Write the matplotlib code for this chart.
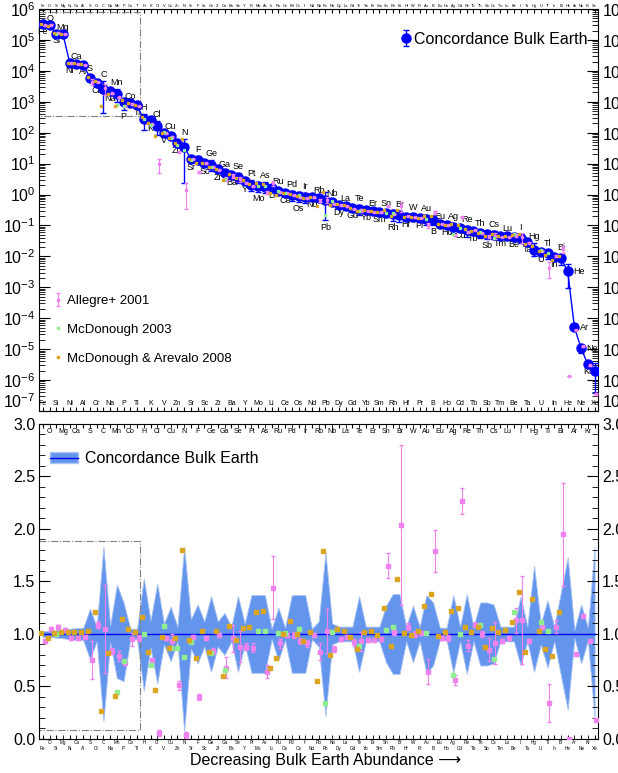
import numpy as np
import matplotlib
matplotlib.use('Agg')
import matplotlib.pyplot as plt
from matplotlib.patches import Patch
from matplotlib.lines import Line2D
from matplotlib.ticker import LogLocator, MultipleLocator, NullFormatter, FormatStrFormatter

plt.rcParams['font.family'] = ['Liberation Sans', 'DejaVu Sans']
plt.rcParams['mathtext.fontset'] = 'custom'
plt.rcParams['mathtext.rm'] = 'Liberation Sans'
plt.rcParams['mathtext.it'] = 'Liberation Sans:italic'
plt.rcParams['mathtext.bf'] = 'Liberation Sans:bold'

nan = np.nan

# elements in order of decreasing bulk Earth abundance
elements = ['Fe', 'O', 'Si', 'Mg', 'Ni', 'Ca', 'Al', 'S', 'Cr', 'C',
            'Na', 'Mn', 'P', 'Co', 'Ti', 'H', 'K', 'Cl', 'V', 'Cu',
            'Zn', 'N', 'Sr', 'F', 'Sc', 'Ge', 'Zr', 'Ga', 'Ba', 'Se',
            'Y', 'Pt', 'Mo', 'As', 'Li', 'Ru', 'Ce', 'Pd', 'Os', 'Ir',
            'Nd', 'Rb', 'Pb', 'Nb', 'Dy', 'La', 'Gd', 'Te', 'Yb', 'Er',
            'Sm', 'Sn', 'Rh', 'Br', 'Hf', 'W', 'Pr', 'Au', 'B', 'Eu',
            'Ho', 'Ag', 'Cd', 'Re', 'Tb', 'Th', 'Sb', 'Cs', 'Tm', 'Lu',
            'Be', 'I', 'Ta', 'Hg', 'U', 'Tl', 'In', 'Bi', 'He', 'Ar',
            'Ne', 'Kr', 'Xe']

# concordance bulk Earth (ppm)
bulk = [3.15e5, 2.98e5, 1.60e5, 1.50e5, 1.80e4, 1.72e4, 1.60e4, 6.0e3, 4.0e3, 2.6e3,
        2.2e3, 1.75e3, 1.0e3, 880, 760, 270, 250, 160, 100, 76,
        47, 34, 14.5, 13.5, 10.5, 9.3, 6.5, 4.8, 4.2, 3.6,
        2.7, 2.1, 1.9, 1.8, 1.6, 1.3, 1.15, 0.96, 0.89, 0.84,
        0.82, 0.76, 0.66, 0.59, 0.47, 0.43, 0.37, 0.33, 0.31, 0.29,
        0.28, 0.25, 0.23, 0.21, 0.19, 0.185, 0.17, 0.16, 0.15, 0.115,
        0.104, 0.090, 0.081, 0.070, 0.066, 0.055, 0.052, 0.050, 0.046, 0.044,
        0.043, 0.038, 0.030, 0.016, 0.014, 0.0125, 0.0098, 0.0087, 0.0033, 5.1e-5,
        1.05e-5, 3.2e-6, 2.0e-6]

# relative uncertainties (upper / lower)
err_up = [0.03, 0.025, 0.035, 0.04, 0.05, 0.055, 0.06, 0.24, 0.07, 0.83,
          0.08, 0.47, 0.30, 0.05, 0.05, 0.53, 0.13, 0.48, 0.10, 0.26,
          0.07, 0.83, 0.14, 0.28, 0.12, 0.36, 0.12, 0.20, 0.07, 0.36,
          0.10, 0.37, 0.37, 0.37, 0.05, 0.25, 0.06, 0.37, 0.37, 0.37,
          0.05, 0.12, 0.78, 0.10, 0.07, 0.07, 0.07, 0.36, 0.07, 0.07,
          0.07, 0.27, 0.38, 0.38, 0.07, 0.27, 0.07, 0.37, 0.30, 0.06,
          0.06, 0.37, 0.07, 0.38, 0.07, 0.30, 0.30, 0.28, 0.07, 0.07,
          0.07, 0.36, 0.07, 0.65, 0.10, 0.32, 0.07, 0.40, 0.73, 0.04,
          0.28, 0.06, 0.83]
err_lo = [0.03, 0.025, 0.035, 0.04, 0.05, 0.055, 0.06, 0.24, 0.07, 0.83,
          0.08, 0.42, 0.45, 0.05, 0.05, 0.54, 0.13, 0.47, 0.10, 0.26,
          0.07, 0.93, 0.14, 0.28, 0.12, 0.36, 0.12, 0.20, 0.07, 0.36,
          0.10, 0.37, 0.37, 0.37, 0.05, 0.25, 0.06, 0.37, 0.37, 0.37,
          0.05, 0.12, 0.78, 0.10, 0.07, 0.07, 0.07, 0.36, 0.07, 0.07,
          0.07, 0.27, 0.38, 0.38, 0.07, 0.27, 0.07, 0.37, 0.30, 0.06,
          0.06, 0.37, 0.07, 0.38, 0.07, 0.30, 0.30, 0.28, 0.07, 0.07,
          0.07, 0.30, 0.07, 0.36, 0.10, 0.32, 0.07, 0.40, 0.72, 0.04,
          0.28, 0.06, 0.81]

# ratios of other estimates to the concordance value
allegre = [0.93, 1.05, 1.07, 1.04, 0.96, 0.96, 0.97, 0.75, 1.09, 1.05,
           0.84, 0.79, 0.72, 0.95, 0.96, nan, 0.75, 0.06, 0.96, 0.93,
           0.51, 0.04, 0.97, 0.40, 0.96, 0.84, 0.99, 0.68, 0.96, 0.88,
           0.88, 0.87, nan, 0.64, 1.44, 0.91, 0.99, 0.99, 0.93, 0.91,
           0.99, 0.83, 1.03, 0.86, 0.95, 0.97, 0.92, 0.93, 0.94, 0.94,
           0.95, 1.65, 1.02, 2.04, 1.07, 1.00, 1.01, 0.64, 1.79, 0.96,
           0.96, 0.56, 2.27, 0.89, 1.09, 1.00, 0.85, 0.91, 0.93, 0.96,
           1.13, 1.13, 0.93, nan, 1.07, 0.34, 1.07, 1.95, 0.0004, 0.81,
           1.17, 0.93, 0.18]
allegre_err = [0.02, 0.02, 0.02, 0.02, 0.02, 0.02, 0.02, 0.18, 0.03, 0.42,
               0.03, 0.05, 0.02, 0.06, 0.03, nan, 0.02, 0.03, 0.02, 0.07,
               0.04, 0.03, 0.02, 0.03, 0.02, 0.03, 0.02, 0.10, 0.13, 0.15,
               0.03, 0.04, nan, 0.06, 0.30, 0.04, 0.02, 0.03, 0.03, 0.03,
               0.02, 0.08, 0.21, 0.03, 0.02, 0.02, 0.03, 0.09, 0.02, 0.02,
               0.02, 0.12, 0.03, 0.76, 0.03, 0.03, 0.02, 0.12, 0.20, 0.02,
               0.03, 0.05, 0.125, 0.05, 0.02, 0.03, 0.11, 0.20, 0.02, 0.02,
               0.12, 0.42, 0.02, nan, 0.02, 0.18, 0.06, 0.49, 0.0, 0.01,
               0.01, 0.01, 0.01]
mcd03 = [nan, nan, 1.00, nan, nan, nan, nan, nan, nan, nan,
         nan, 0.45, 0.74, nan, nan, 1.00, 0.70, nan, 1.08, 0.87,
         0.87, 0.78, 0.92, nan, nan, 0.82, nan, 0.66, nan, nan,
         nan, nan, 1.03, 1.03, nan, 1.01, 1.01, nan, 1.05, nan,
         nan, nan, 0.34, 1.02, nan, nan, nan, 0.89, nan, nan,
         nan, 1.04, 1.07, nan, nan, nan, nan, 1.01, nan, nan,
         nan, 0.61, 1.00, nan, nan, 1.09, nan, 0.76, nan, nan,
         1.21, nan, nan, nan, 1.11, 1.03, nan, nan, nan, nan,
         nan, nan, nan]
mcd08 = [1.01, 0.96, 1.01, 1.02, 1.02, 1.02, 1.02, 1.03, 1.21, 0.27,
         0.82, 0.41, 1.14, 1.05, 1.02, 1.16, 0.83, 0.47, 0.97, 0.87,
         0.96, 1.80, 0.94, 0.77, 1.03, 0.83, 1.03, 0.60, 1.08, 0.94,
         1.06, 1.07, 1.21, 1.22, 0.68, 0.77, 1.00, 1.12, 1.00, 0.93,
         1.02, 0.55, 1.79, 0.80, 1.05, 1.03, 0.97, 0.86, 1.02, 1.03,
         0.99, 1.25, 0.89, 1.52, 1.01, 0.99, 1.03, 1.27, 1.38, 0.98,
         1.02, 1.22, 1.25, 1.07, 1.02, 1.07, 0.88, 1.06, 1.02, 1.04,
         1.11, 1.40, 0.83, 1.33, 1.03, 0.86, 0.79, 1.21, nan, nan,
         nan, nan, nan]

# zoomed region boxes (x range in element index, y ranges)
box_x = (0.5, 15.5)
box_top = (350, 8e5)
box_bot = (0.09, 1.89)

# small horizontal offsets so the three comparison sets don't sit on each other
off_all, off_m03, off_m08 = 0.25, 0.0, -0.3

x = np.arange(1, len(elements) + 1)
bulk = np.array(bulk)
up = np.array(err_up)
lo = np.array(err_lo)
a = np.array(allegre)
ae = np.array(allegre_err)
m03 = np.array(mcd03)
m08 = np.array(mcd08)

c_all = 'violet'
c_m03 = 'lightgreen'
c_m08 = 'goldenrod'

fig = plt.figure(figsize=(6.18, 7.73), dpi=100)
ax1 = fig.add_axes([0.0639, 0.4683, 0.9037, 0.5201])
ax2 = fig.add_axes([0.0639, 0.0440, 0.9037, 0.4075])

# ---- top panel: abundances
h_conc = ax1.errorbar(x, bulk, yerr=[bulk * lo, bulk * up], fmt='o-', color='blue',
                      ms=6.5, lw=1, elinewidth=1, capsize=2.5, zorder=3)
h_all = ax1.errorbar(x + off_all, a * bulk, yerr=ae * bulk, fmt='s', color=c_all, ms=1.8,
                     elinewidth=0.8, capsize=1.5, zorder=4)
h_m03, = ax1.plot(x + off_m03, m03 * bulk, 's', color=c_m03, ms=1.8, zorder=5)
h_m08, = ax1.plot(x + off_m08, m08 * bulk, 's', color=c_m08, ms=1.8, zorder=5)

for i, el in enumerate(elements):
    if el in ('He', 'Ar', 'Ne'):
        ax1.annotate(el, (x[i], bulk[i]), xytext=(4, 0), textcoords='offset points',
                     ha='left', va='center', fontsize=6.5)
    elif el == 'Xe':
        continue
    elif i % 2 == 1 and el != 'Kr':
        ax1.annotate(el, (x[i], bulk[i] * (1 + up[i])), xytext=(0, 1.5),
                     textcoords='offset points', ha='center', va='bottom', fontsize=6.5)
    else:
        ax1.annotate(el, (x[i], bulk[i] * (1 - lo[i])), xytext=(0, -1.5),
                     textcoords='offset points', ha='center', va='top', fontsize=6.5)

ax1.plot([box_x[0], box_x[1], box_x[1], box_x[0]],
         [box_top[1], box_top[1], box_top[0], box_top[0]],
         ls='-.', color='gray', lw=0.8)

ax1.set_yscale('log')
ax1.set_ylim(1e-7, 1e6)
ax1.set_xlim(0.5, 83.5)
ax1.set_xticks(x)
ax1.set_xticklabels(elements, fontsize=2.8)
ax1.tick_params(axis='x', which='both', direction='in', top=True, bottom=True,
                labeltop=True, labelbottom=False, length=3, pad=1)
ax1.yaxis.set_major_locator(LogLocator(base=10, numticks=20))
ax1.yaxis.set_minor_locator(LogLocator(base=10, subs=np.arange(2, 10) * 1.0, numticks=20))
ax1.yaxis.set_minor_formatter(NullFormatter())
ax1.tick_params(axis='y', which='major', direction='in', left=True, right=True,
                labelleft=True, labelright=True, length=8, labelsize=11.5, pad=3)
ax1.tick_params(axis='y', which='minor', direction='in', left=True, right=True, length=4)
for xi, el in zip(x[::2], elements[::2]):
    ax1.text(xi, 0.018, el, transform=ax1.get_xaxis_transform(), ha='center',
             va='center', fontsize=5)

leg1 = ax1.legend([h_conc], ['Concordance Bulk Earth'], loc='center right',
                  bbox_to_anchor=(0.992, 0.925), frameon=False, fontsize=11.5,
                  handlelength=0.5, handletextpad=0.2, borderaxespad=0)
ax1.add_artist(leg1)
ax1.legend([h_all, h_m03, h_m08], ['Allegre+ 2001', 'McDonough 2003', 'McDonough & Arevalo 2008'],
           loc='center left', bbox_to_anchor=(0.011, 0.2015), frameon=False, fontsize=9.5,
           labelspacing=1.25, handlelength=1.0, handletextpad=0.25, borderaxespad=0)

# ---- bottom panel: ratios to concordance
ax2.fill_between(x, 1 - lo, 1 + up, facecolor='cornflowerblue', edgecolor='#a9c3f2',
                 lw=0.6, zorder=1)
ax2.plot(x, bulk / bulk, color='blue', lw=1, zorder=2)
ax2.errorbar(x + off_all, a, yerr=ae, fmt='s', color=c_all, ms=2.2, elinewidth=0.8,
             capsize=1.5, zorder=3)
ax2.plot(x + off_m03, m03, 's', color=c_m03, ms=2.2, zorder=4)
ax2.plot(x + off_m08, m08, 's', color=c_m08, ms=2.2, zorder=4)

ax2.plot([box_x[0], box_x[1], box_x[1], box_x[0]],
         [box_bot[1], box_bot[1], box_bot[0], box_bot[0]],
         ls='-.', color='gray', lw=0.8)

ax2.set_xlim(0.5, 83.5)
ax2.set_ylim(0, 3)
ax2.set_xticks(x[::2])
ax2.set_xticklabels(elements[::2], fontsize=3.3)
ax2.set_xticks(x[1::2], minor=True)
ax2.set_xticklabels(elements[1::2], minor=True, fontsize=3.3)
ax2.tick_params(axis='x', which='major', direction='in', top=True, bottom=True, length=3, pad=5)
ax2.tick_params(axis='x', which='minor', direction='in', top=True, bottom=True, length=3, pad=0.8)
ax2.yaxis.set_major_locator(MultipleLocator(0.5))
ax2.yaxis.set_minor_locator(MultipleLocator(0.1))
ax2.yaxis.set_major_formatter(FormatStrFormatter('%.1f'))
ax2.tick_params(axis='y', which='major', direction='in', left=True, right=True,
                labelleft=True, labelright=True, length=8, labelsize=11.5, pad=3)
ax2.tick_params(axis='y', which='minor', direction='in', left=True, right=True, length=4)
for xi, el in zip(x[1::2], elements[1::2]):
    ax2.text(xi, 0.975, el, transform=ax2.get_xaxis_transform(), ha='center',
             va='center', fontsize=5)

band_handle = (Patch(facecolor='cornflowerblue', edgecolor='#a9c3f2'), Line2D([], [], color='blue', lw=1))
ax2.legend([band_handle], ['Concordance Bulk Earth'], loc='center left',
           bbox_to_anchor=(0.007, 0.89), frameon=False, fontsize=11.5,
           handlelength=1.75, handletextpad=0.45, borderaxespad=0)

fig.text(0.527, 1 - 760 / 773, 'Decreasing Bulk Earth Abundance \u27f6', ha='center',
         va='center', fontsize=11.5)

# lift the lowest log label so it clears the 3.0 label of the lower panel
fig.canvas.draw()
for tick in ax1.yaxis.get_major_ticks():
    if np.isclose(tick.get_loc(), 1e-7):
        tick.label1.set_va('bottom')
        tick.label2.set_va('bottom')

fig.savefig('out.png', dpi=100)
